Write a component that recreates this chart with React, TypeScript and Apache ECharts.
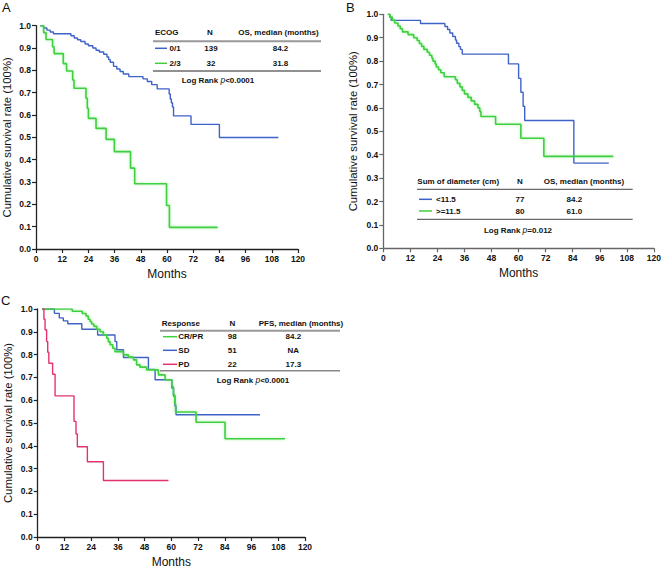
import React, { useEffect, useRef } from "react";
import * as echarts from "echarts";

// ---------- Data ----------
const monthTicks = [0, 12, 24, 36, 48, 60, 72, 84, 96, 108, 120];

// Panel A: ECOG
const ecog01Months = [2, 3.5, 5, 6.5, 8, 16, 17.5, 19, 20.5, 22.5, 24, 26, 27.5, 29, 31, 32.5, 33.3, 34, 35.5, 37, 38.5, 40, 42.5, 49, 51, 53, 55.5, 61, 61.5, 62, 62.5, 63, 71, 84, 111];
const ecog01Surv = [1.0, 0.99, 0.98, 0.972, 0.964, 0.955, 0.945, 0.937, 0.929, 0.918, 0.91, 0.9, 0.89, 0.882, 0.872, 0.86, 0.848, 0.836, 0.818, 0.806, 0.795, 0.784, 0.772, 0.762, 0.75, 0.736, 0.717, 0.694, 0.672, 0.655, 0.636, 0.596, 0.558, 0.499, 0.499];
const ecog23Months = [2, 3.5, 4.6, 7.6, 8.3, 12.5, 14, 16.8, 17.4, 22.9, 23.5, 24, 27.5, 32.1, 35.9, 43.3, 45.2, 59.8, 61.1, 83.2];
const ecog23Surv = [1.0, 0.969, 0.938, 0.906, 0.875, 0.83, 0.797, 0.757, 0.72, 0.675, 0.63, 0.585, 0.54, 0.491, 0.436, 0.362, 0.292, 0.195, 0.097, 0.097];
const ecogRows = [
  ["0/1", "139", "84.2"],
  ["2/3", "32", "31.8"],
];

// Panel B: Sum of diameter
const lt115Months = [2, 2.9, 3.5, 16.5, 27.3, 28.5, 29.5, 30.8, 32, 32.5, 33.5, 34.2, 35, 55.5, 60, 61, 62, 62.7, 84.5, 100];
const lt115Surv = [1.0, 0.987, 0.974, 0.961, 0.948, 0.935, 0.92, 0.905, 0.89, 0.876, 0.862, 0.85, 0.83, 0.788, 0.726, 0.667, 0.607, 0.546, 0.364, 0.364];
const ge115Months = [2, 3, 4, 5, 6.5, 7.5, 8.5, 11, 13.5, 15, 16, 17, 18, 19.5, 20.5, 21.5, 22, 23, 23.5, 24.5, 25.5, 27, 32, 32.8, 34, 35, 36, 37.5, 39, 40.5, 42, 42.8, 43.3, 49.8, 61, 71.2, 102];
const ge115Surv = [1.0, 0.988, 0.975, 0.963, 0.95, 0.938, 0.925, 0.913, 0.9, 0.888, 0.875, 0.863, 0.85, 0.838, 0.825, 0.813, 0.8, 0.788, 0.775, 0.763, 0.75, 0.733, 0.72, 0.705, 0.69, 0.675, 0.66, 0.645, 0.63, 0.615, 0.6, 0.585, 0.563, 0.53, 0.47, 0.393, 0.393];
const diamRows = [
  ["<11.5", "77", "84.2"],
  [">=11.5", "80", "61.0"],
];

// Panel C: Response
const crprMonths = [2, 15.5, 20, 21.7, 22.7, 23.5, 24.2, 25.2, 26.5, 28, 29.5, 31, 31.7, 32.5, 33.7, 34.7, 38.5, 40.7, 43, 44.4, 45.9, 48.9, 54.2, 57.2, 60.2, 60.9, 61.5, 61.9, 71.1, 84.1, 111];
const crprSurv = [1.0, 0.99, 0.98, 0.969, 0.955, 0.945, 0.934, 0.924, 0.911, 0.9, 0.886, 0.872, 0.857, 0.843, 0.828, 0.813, 0.799, 0.789, 0.777, 0.755, 0.745, 0.733, 0.711, 0.69, 0.66, 0.624, 0.587, 0.548, 0.503, 0.431, 0.431];
const sdMonths = [2, 7.5, 9.7, 11.5, 13.5, 19.8, 26.9, 34.7, 35.5, 38.5, 49.7, 52.7, 60.2, 61, 61.6, 62.1, 99.8];
const sdSurv = [1.0, 0.981, 0.961, 0.948, 0.935, 0.911, 0.886, 0.857, 0.821, 0.787, 0.735, 0.69, 0.653, 0.617, 0.574, 0.536, 0.536];
const pdMonths = [2, 2.8, 3.3, 4, 4.5, 5, 6.7, 7.8, 16.3, 17.2, 17.8, 22.3, 29.5, 58.7];
const pdSurv = [1.0, 0.955, 0.909, 0.857, 0.81, 0.762, 0.714, 0.619, 0.507, 0.452, 0.396, 0.33, 0.248, 0.248];
const respRows = [
  ["CR/PR", "98", "84.2"],
  ["SD", "51", "NA"],
  ["PD", "22", "17.3"],
];

// ---------- Styling ----------
const BLUE = "#3f62c8";
const GREEN = "#3fcf3f";
const PINK = "#e23370";
const FONT = "'Liberation Sans', Arial, sans-serif";
const YNAME = "Cumulative survival rate (100%)";

const zip = (xs: number[], ys: number[]) => xs.map((x, i) => [x, ys[i]]);

function kmSeries(name: string, months: number[], surv: number[], color: string, idx: number, glow: boolean) {
  return {
    type: "line",
    name,
    step: "end",
    xAxisIndex: idx,
    yAxisIndex: idx,
    showSymbol: false,
    symbol: "none",
    data: zip(months, surv),
    lineStyle: glow
      ? { color, width: 1.6, shadowColor: "rgba(80,230,80,0.45)", shadowBlur: 3 }
      : { color, width: 1.4 },
    itemStyle: { color },
    z: 3,
  };
}

function xAxisCfg(idx: number, axisColor: string) {
  return {
    type: "value",
    gridIndex: idx,
    min: 0,
    max: 120,
    interval: 12,
    name: "Months",
    nameLocation: "middle",
    nameGap: 19,
    nameTextStyle: { fontFamily: FONT, fontSize: 12, color: "#111" },
    axisLine: { show: true, onZero: false, lineStyle: { color: axisColor, width: 1.3 } },
    axisTick: { show: true, length: 4, lineStyle: { color: axisColor, width: 1.2 }, customValues: monthTicks },
    axisLabel: { fontFamily: FONT, fontSize: 8.5, fontWeight: "bold", color: "#111", margin: 5, customValues: monthTicks },
    splitLine: { show: false },
  };
}

function yAxisCfg(idx: number, axisColor: string, gap: number) {
  return {
    type: "value",
    gridIndex: idx,
    min: 0,
    max: 1,
    interval: 0.1,
    name: YNAME,
    nameLocation: "middle",
    nameRotate: 90,
    nameGap: gap,
    nameTextStyle: { fontFamily: FONT, fontSize: 11.3, color: "#111" },
    axisLine: { show: true, onZero: false, lineStyle: { color: axisColor, width: 1.3 } },
    axisTick: { show: true, length: 4, lineStyle: { color: axisColor, width: 1.2 } },
    axisLabel: {
      fontFamily: FONT,
      fontSize: 8.5,
      fontWeight: "bold",
      color: "#111",
      margin: 5,
      formatter: (v: number) => v.toFixed(1),
    },
    splitLine: { show: false },
  };
}

function txt(text: string, x: number, y: number, align: string) {
  return {
    type: "text",
    x,
    y,
    style: {
      text,
      fontFamily: FONT,
      fontSize: 8,
      fontWeight: "bold",
      fill: "#111",
      textAlign: align,
      textVerticalAlign: "middle",
    },
    z: 10,
  };
}

function hline(x1: number, x2: number, y: number, color: string, width: number) {
  return {
    type: "line",
    shape: { x1, y1: y, x2, y2: y },
    style: { stroke: color, lineWidth: width },
    z: 10,
  };
}

function logRank(text: string, pval: string, cx: number, y: number) {
  return {
    type: "text",
    x: cx,
    y,
    style: {
      text: `{b|${text} }{i|p}{b|${pval}}`,
      textAlign: "center",
      textVerticalAlign: "middle",
      rich: {
        b: { fontFamily: FONT, fontSize: 8, fontWeight: "bold", fill: "#111", color: "#111" },
        i: { fontFamily: FONT, fontSize: 8.5, fontStyle: "italic", fill: "#111", color: "#111" },
      },
    },
    z: 10,
  };
}

interface TableCfg {
  headers: string[];
  headerXs: number[];
  headerAligns: string[];
  headerY: number;
  lineX1: number;
  lineX2: number;
  headerLineY: number;
  headerLineColor: string;
  headerLineWidth: number;
  rows: string[][];
  rowYs: number[];
  colors: string[];
  swatchX1: number;
  swatchX2: number;
  labelX: number;
  nX: number;
  medX: number;
  bottomLineY: number;
  bottomLineColor: string;
  bottomLineWidth: number;
  pText: string;
  pCx: number;
  pY: number;
}

function table(c: TableCfg) {
  const els: any[] = [];
  c.headers.forEach((h, i) => els.push(txt(h, c.headerXs[i], c.headerY, c.headerAligns[i])));
  els.push(hline(c.lineX1, c.lineX2, c.headerLineY, c.headerLineColor, c.headerLineWidth));
  c.rows.forEach((r, i) => {
    const y = c.rowYs[i];
    els.push(hline(c.swatchX1, c.swatchX2, y, c.colors[i], 1.5));
    els.push(txt(r[0], c.labelX, y, "left"));
    els.push(txt(r[1], c.nX, y, "center"));
    els.push(txt(r[2], c.medX, y, "center"));
  });
  els.push(hline(c.lineX1, c.lineX2, c.bottomLineY, c.bottomLineColor, c.bottomLineWidth));
  els.push(logRank("Log Rank", c.pText, c.pCx, c.pY));
  return els;
}

function panelLetter(t: string, x: number, y: number) {
  return {
    type: "text",
    x,
    y,
    style: { text: t, fontFamily: FONT, fontSize: 13, fill: "#111", textAlign: "left", textVerticalAlign: "top" },
    z: 10,
  };
}

export default function App() {
  const ref = useRef<HTMLDivElement>(null);

  useEffect(() => {
    if (!ref.current) return;
    const chart = echarts.init(ref.current, undefined, { renderer: "svg" });

    const graphics = [
      panelLetter("A", 2, 1),
      panelLetter("B", 346, 1),
      panelLetter("C", 1, 294),
      ...table({
        headers: ["ECOG", "N", "OS, median (months)"],
        headerXs: [155, 210, 278.5],
        headerAligns: ["left", "center", "center"],
        headerY: 32.7,
        lineX1: 153,
        lineX2: 321,
        headerLineY: 41.3,
        headerLineColor: "#999",
        headerLineWidth: 2,
        rows: ecogRows,
        rowYs: [48.3, 63.3],
        colors: [BLUE, GREEN],
        swatchX1: 155,
        swatchX2: 167,
        labelX: 169.5,
        nX: 211,
        medX: 280.5,
        bottomLineY: 71,
        bottomLineColor: "#222",
        bottomLineWidth: 1,
        pText: "<0.0001",
        pCx: 218,
        pY: 80.3,
      }),
      ...table({
        headers: ["Sum of diameter (cm)", "N", "OS, median (months)"],
        headerXs: [417.3, 520, 584],
        headerAligns: ["left", "center", "center"],
        headerY: 181.7,
        lineX1: 417,
        lineX2: 632.7,
        headerLineY: 189.3,
        headerLineColor: "#444",
        headerLineWidth: 1,
        rows: diamRows,
        rowYs: [199.3, 211],
        colors: [BLUE, GREEN],
        swatchX1: 419,
        swatchX2: 432,
        labelX: 436,
        nX: 520,
        medX: 574.3,
        bottomLineY: 219.3,
        bottomLineColor: "#444",
        bottomLineWidth: 1,
        pText: "=0.012",
        pCx: 518,
        pY: 230,
      }),
      ...table({
        headers: ["Response", "N", "PFS, median (months)"],
        headerXs: [161.7, 232.3, 258.7],
        headerAligns: ["left", "center", "left"],
        headerY: 323.3,
        lineX1: 160,
        lineX2: 340,
        headerLineY: 330.7,
        headerLineColor: "#999",
        headerLineWidth: 2,
        rows: respRows,
        rowYs: [336.7, 350.3, 364.3],
        colors: [GREEN, BLUE, PINK],
        swatchX1: 163,
        swatchX2: 177,
        labelX: 178.3,
        nX: 232.3,
        medX: 293.3,
        bottomLineY: 370.7,
        bottomLineColor: "#888",
        bottomLineWidth: 1.5,
        pText: "<0.0001",
        pCx: 253,
        pY: 380,
      }),
    ];

    chart.setOption({
      animation: false,
      backgroundColor: "#fff",
      grid: [
        { left: 36, top: 25.7, width: 262, height: 223.3 },
        { left: 383.3, top: 14.3, width: 273.4, height: 234 },
        { left: 37.7, top: 309, width: 267.3, height: 228.7 },
      ],
      xAxis: [xAxisCfg(0, "#222"), xAxisCfg(1, "#666"), xAxisCfg(2, "#222")],
      yAxis: [yAxisCfg(0, "#222", 24), yAxisCfg(1, "#666", 25), yAxisCfg(2, "#222", 24)],
      series: [
        kmSeries("0/1", ecog01Months, ecog01Surv, BLUE, 0, false),
        kmSeries("2/3", ecog23Months, ecog23Surv, GREEN, 0, true),
        kmSeries("<11.5", lt115Months, lt115Surv, BLUE, 1, false),
        kmSeries(">=11.5", ge115Months, ge115Surv, GREEN, 1, true),
        kmSeries("SD", sdMonths, sdSurv, BLUE, 2, false),
        kmSeries("CR/PR", crprMonths, crprSurv, GREEN, 2, true),
        kmSeries("PD", pdMonths, pdSurv, PINK, 2, false),
      ],
      graphic: graphics,
    });

    return () => chart.dispose();
  }, []);

  return (
    <div
      ref={ref}
      style={{ position: "absolute", left: 0, top: 0, width: 664, height: 569, background: "#fff" }}
    />
  );
}
